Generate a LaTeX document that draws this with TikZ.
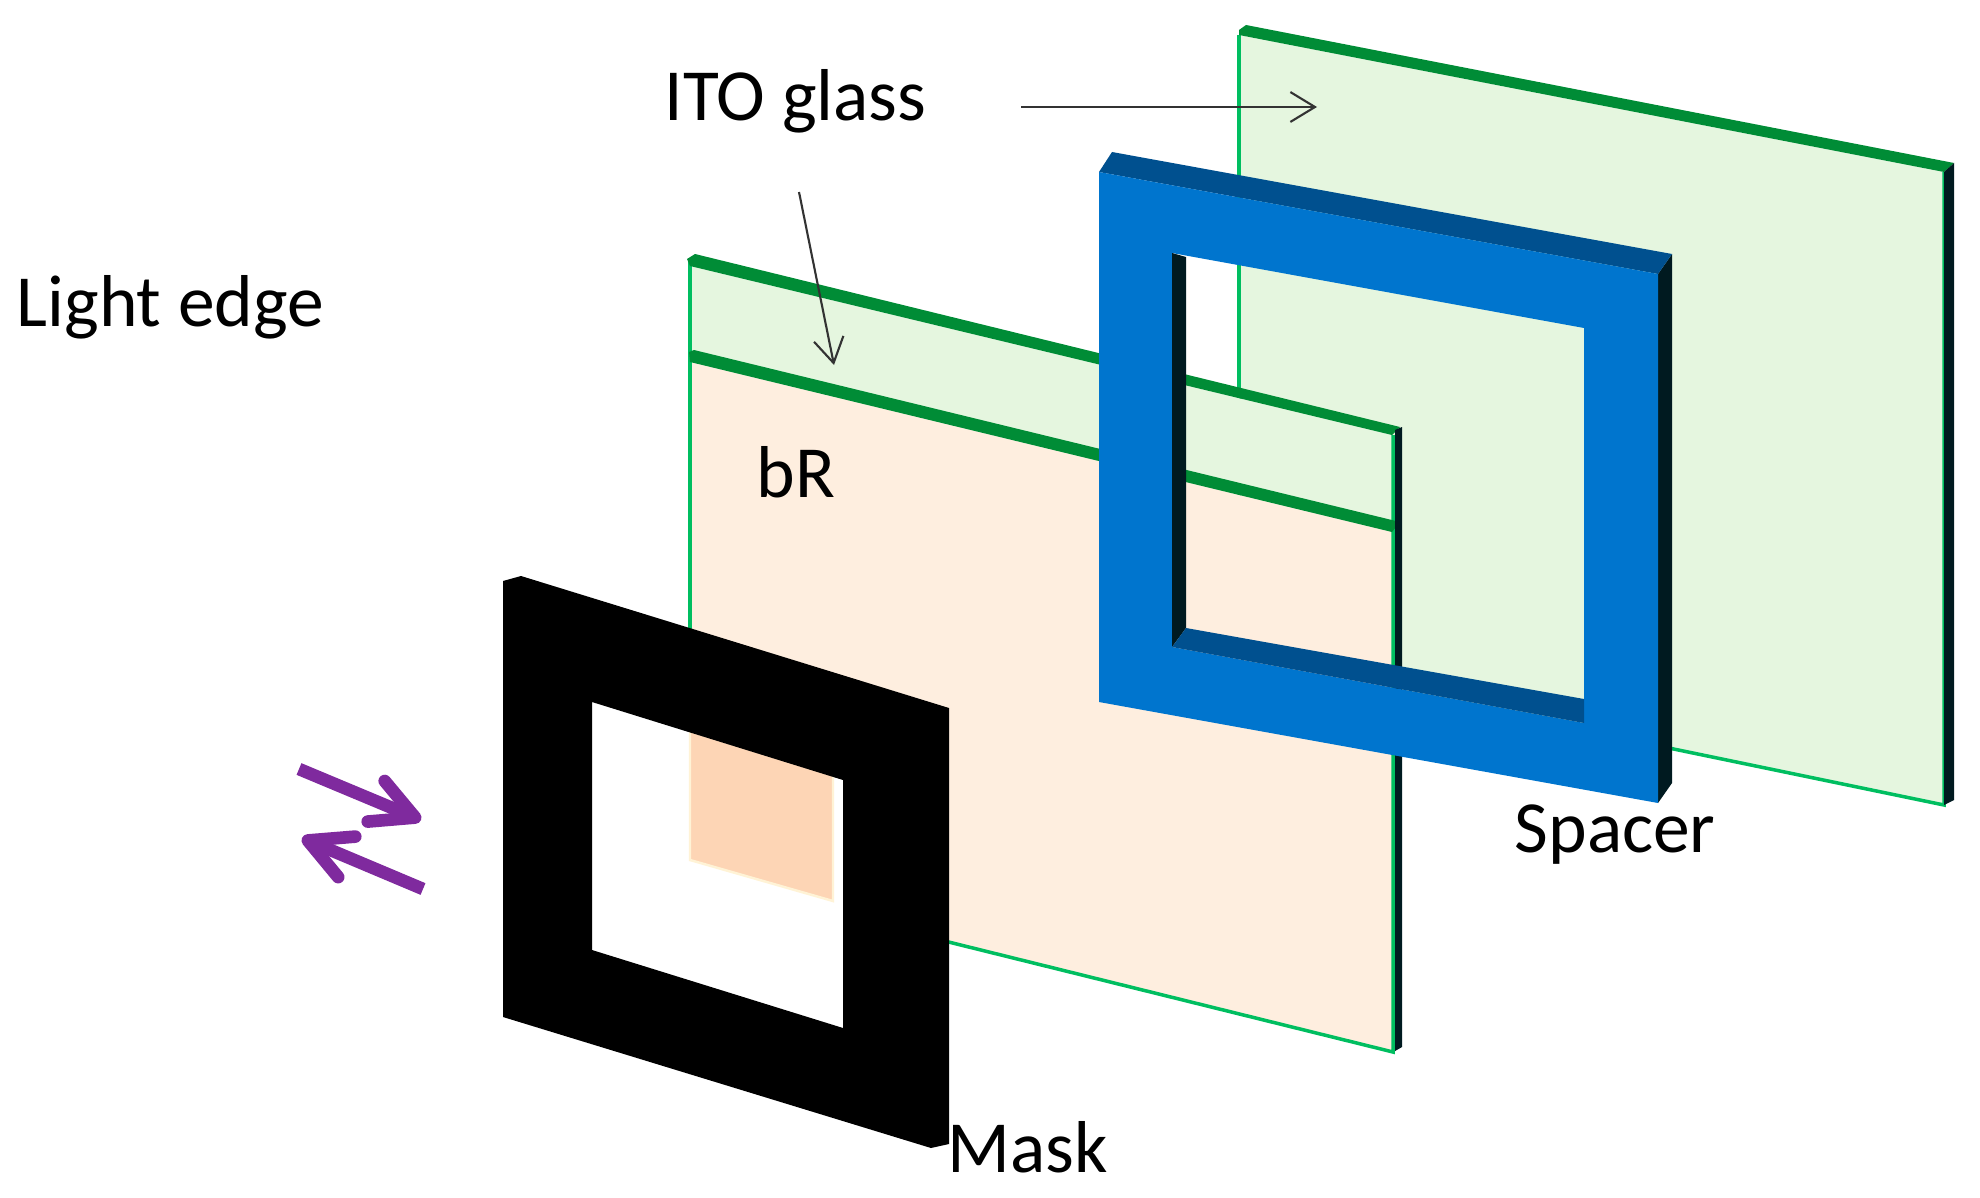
\documentclass[tikz,border=0pt]{standalone}
\usepackage{fontspec}
\setmainfont{Carlito}
\usetikzlibrary{arrows.meta, positioning}
\definecolor{glassgreen}{HTML}{E5F6DF}
\definecolor{edgegreen}{HTML}{008C36}
\definecolor{rimgreen}{HTML}{00BE60}
\definecolor{brpeach}{HTML}{FEEEDF}
\definecolor{spotpeach}{HTML}{FDD5B5}
\definecolor{spotrim}{HTML}{FFF3D6}
\definecolor{spacerblue}{HTML}{0075CE}
\definecolor{spacerdark}{HTML}{00508F}
\definecolor{sidedark}{HTML}{001A20}
\definecolor{lightpurple}{HTML}{7F2A9E}
\tikzstyle{caption} = [font=\fontsize{20.9pt}{25pt}\selectfont, inner sep=0pt, anchor=base west]
\tikzstyle{arrow} = [line width=0.6pt, draw=black!80, ->, >={Straight Barb[length=7pt, width=8.5pt]}]
\tikzstyle{lightarrow} = [line width=3.6pt, draw=lightpurple, ->, >={Straight Barb[length=12pt, width=12.5pt, round]}]
\tikzstyle{rim} = [line width=1pt, draw=rimgreen]

\begin{document}
\begin{tikzpicture}[x=0.01cm, y=-0.01cm]
    \useasboundingbox (0,0) rectangle (1980,1197);

    % Back ITO glass
    \fill [glassgreen] (1239,35) -- (1944,172) -- (1944,805) -- (1239,659) -- cycle;
    \draw [rim] (1239,659) -- (1239,35);
    \draw [rim] (1239,659) -- (1944,805) -- (1944,172);
    \fill [edgegreen] (1239,30) -- (1246,25) -- (1954,163) -- (1944,172) -- (1239,35) -- cycle;
    \fill [sidedark] (1944,172) -- (1954,163) -- (1954,800) -- (1944,805) -- cycle;

    % Front ITO glass with bR
    \fill [glassgreen] (690,266) -- (1392,435) -- (1392,532) -- (690,362) -- cycle;
    \fill [brpeach] (690,362) -- (1392,532) -- (1392,1052) -- (690,878) -- cycle;
    \draw [rim] (690,878) -- (690,262);
    \draw [rim] (690,878) -- (1393,1052) -- (1393,435);
    \fill [edgegreen] (687,259) -- (695,254) -- (1400,427) -- (1392,435) -- (690,266) -- cycle;
    \fill [edgegreen] (689,352) -- (694,350) -- (1400,522) -- (1392,532) -- (690,362) -- cycle;
    \fill [sidedark] (1395,430) -- (1402,427) -- (1402,1047) -- (1395,1051) -- cycle;

    % Spacer
    \fill [sidedark] (1658,274) -- (1672,254) -- (1672,783) -- (1658,803) -- cycle;
    \fill [spacerdark] (1099,172) -- (1112,152) -- (1672,254) -- (1658,274) -- cycle;
    \fill [spacerblue, even odd rule] (1099,172) -- (1658,274) -- (1658,803) -- (1099,702) -- cycle
        (1172,253) -- (1584,328) -- (1584,723) -- (1172,647) -- cycle;
    \fill [sidedark] (1172,253) -- (1186,257) -- (1186,628) -- (1172,647) -- cycle;
    \fill [spacerdark] (1172,647) -- (1186,628) -- (1584,699) -- (1584,723) -- cycle;

    % Mask
    \fill [white] (592,702) -- (843,780) -- (843,1028) -- (592,950) -- cycle;
    \filldraw [fill=spotpeach, draw=spotrim, line width=0.7pt] (690,731) -- (833,775) -- (833,901) -- (690,860) -- cycle;
    \fill [black, even odd rule] (503,581) -- (521,576) -- (949,708) -- (949,1144) -- (931,1148) -- (503,1017) -- cycle
        (592,702) -- (843,780) -- (843,1028) -- (592,950) -- cycle;

    % Labels
    \node (ito_label) [caption] at (664,121) {ITO glass};
    \node (light_label) [caption] at (16,326) {Light edge};
    \node (br_label) [caption] at (756,497) {bR};
    \node (spacer_label) [caption] at (1514,852) {Spacer};
    \node (mask_label) [caption] at (947,1172) {Mask};

    % Pointer ends
    \coordinate (ito_back_start) at (1021,107);
    \coordinate (ito_back_end) at (1317,107);
    \coordinate (ito_front_start) at (799,192);
    \coordinate (ito_front_end) at (834,365);
    \coordinate (light_in_start) at (299,769);
    \coordinate (light_in_end) at (421,820);
    \coordinate (light_out_start) at (423,889);
    \coordinate (light_out_end) at (302,838);

    % ==== Arrows
    \draw [arrow] (ito_back_start) -- (ito_back_end);
    \draw [arrow] (ito_front_start) -- (ito_front_end);
    \draw [lightarrow] (light_in_start) -- (light_in_end);
    \draw [lightarrow] (light_out_start) -- (light_out_end);

\end{tikzpicture}
\end{document}
